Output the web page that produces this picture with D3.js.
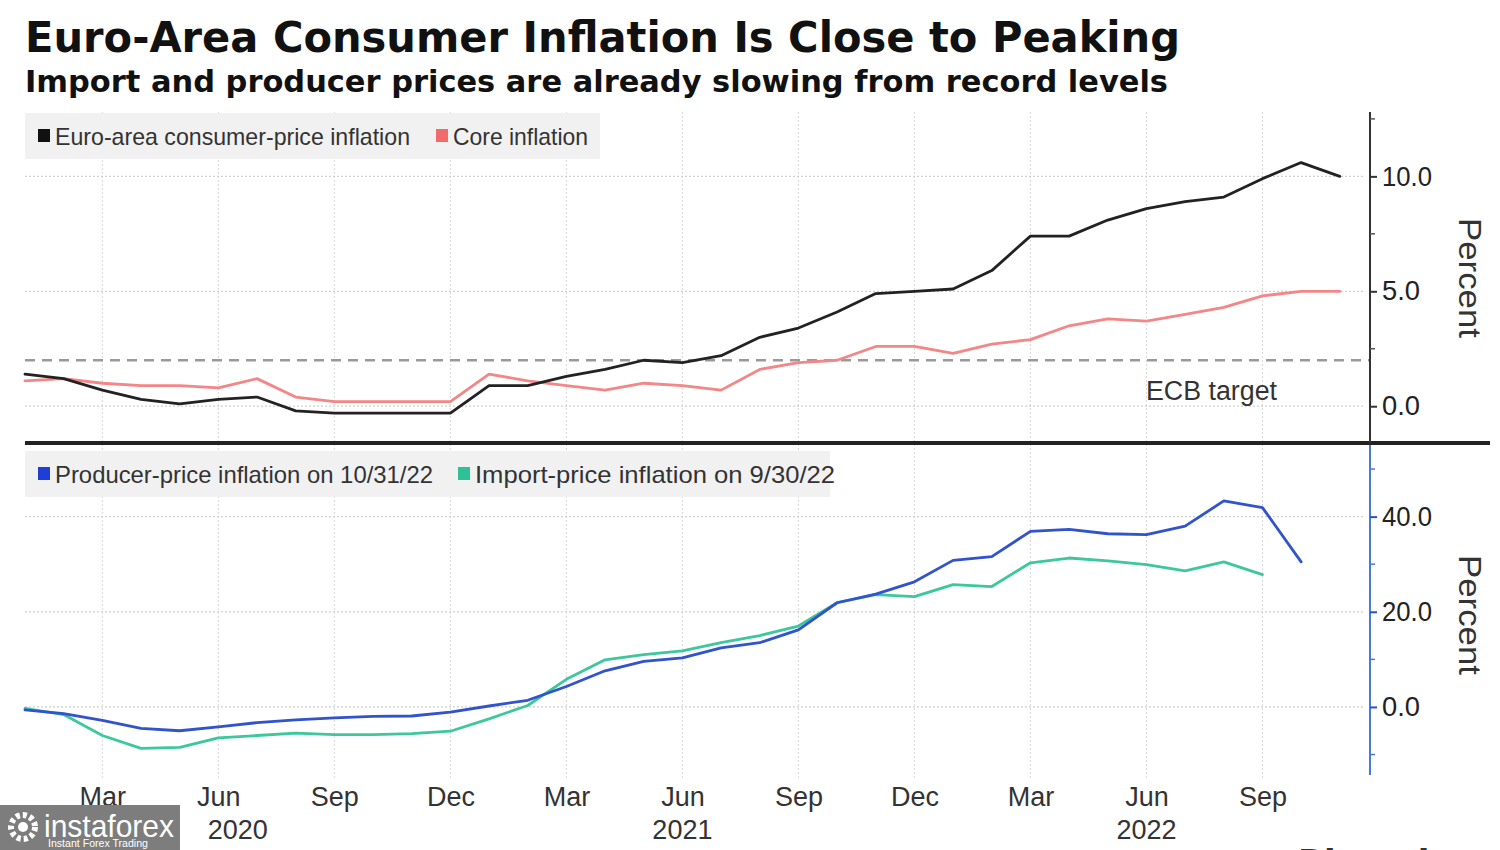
<!DOCTYPE html>
<html><head><meta charset="utf-8">
<script src="https://cdn.jsdelivr.net/npm/d3@7"></script>
<style>
html,body{margin:0;padding:0;background:#fff;}
svg{display:block;}
</style></head>
<body>
<svg id="chart" width="1500" height="850"></svg>
<script>
// ---- data (monthly, Jan 2020 onward) ----
const cpi  = [1.4,1.2,0.7,0.3,0.1,0.3,0.4,-0.2,-0.3,-0.3,-0.3,-0.3,0.9,0.9,1.3,1.6,2.0,1.9,2.2,3.0,3.4,4.1,4.9,5.0,5.1,5.9,7.4,7.4,8.1,8.6,8.9,9.1,9.9,10.6,10.0];
const core = [1.1,1.2,1.0,0.9,0.9,0.8,1.2,0.4,0.2,0.2,0.2,0.2,1.4,1.1,0.9,0.7,1.0,0.9,0.7,1.6,1.9,2.0,2.6,2.6,2.3,2.7,2.9,3.5,3.8,3.7,4.0,4.3,4.8,5.0,5.0];
const ppi  = [-0.6,-1.4,-2.8,-4.5,-5.0,-4.2,-3.3,-2.7,-2.3,-2.0,-1.9,-1.1,0.2,1.4,4.3,7.6,9.6,10.3,12.4,13.5,16.2,21.9,23.7,26.3,30.8,31.6,36.9,37.3,36.4,36.2,38.0,43.3,41.9,30.5];
const imp  = [-0.3,-1.6,-6.0,-8.7,-8.5,-6.5,-6.0,-5.5,-5.8,-5.8,-5.6,-5.1,-2.5,0.3,5.8,9.9,11.0,11.8,13.5,15.0,17.0,21.9,23.6,23.2,25.7,25.3,30.3,31.3,30.7,29.9,28.6,30.5,27.8];
const ecbTarget = 2.0;
const tickMonths = [2,5,8,11,14,17,20,23,26,29,32];
const tickNames  = ["Mar","Jun","Sep","Dec","Mar","Jun","Sep","Dec","Mar","Jun","Sep"];
const yearPos    = [5.5,17,29];
const yearNames  = ["2020","2021","2022"];
const topTicks   = [0,5,10];
const topMinor   = [2.5,7.5,12.5];
const botTicks   = [0,20,40];
const botMinor   = [-10,10,30,50];

const svg = d3.select("#chart");
const FONT = "'Liberation Sans Narrow','Liberation Sans',Arial,sans-serif";

const x = d3.scaleLinear().domain([0,34]).range([25,1339.8]);
const yT = d3.scaleLinear().domain([-1.6,12.8]).range([443,112]);
const yB = d3.scaleLinear().domain([-14.3,54]).range([775,450]);
const axisX = 1370;

// Title
svg.append("text").attr("x",25).attr("y",52)
  .attr("font-family","'DejaVu Sans',sans-serif").attr("font-weight","bold").attr("font-size",42)
  .attr("fill","#111").attr("textLength",1155).attr("lengthAdjust","spacingAndGlyphs")
  .text("Euro-Area Consumer Inflation Is Close to Peaking");
svg.append("text").attr("x",25).attr("y",92)
  .attr("font-family","'DejaVu Sans',sans-serif").attr("font-weight","bold").attr("font-size",31)
  .attr("fill","#111").attr("textLength",1143).attr("lengthAdjust","spacingAndGlyphs")
  .text("Import and producer prices are already slowing from record levels");

// vertical gridlines
svg.append("g").selectAll("line").data(tickMonths).join("line")
  .attr("x1",d=>x(d)).attr("x2",d=>x(d)).attr("y1",112).attr("y2",778)
  .attr("stroke","#d8d8d8").attr("stroke-width",1).attr("stroke-dasharray","2,2");

// horizontal gridlines
svg.append("g").selectAll("line").data(topTicks).join("line")
  .attr("x1",25).attr("x2",axisX-6).attr("y1",d=>yT(d)).attr("y2",d=>yT(d))
  .attr("stroke","#cfcfcf").attr("stroke-width",1.2).attr("stroke-dasharray","2,2");
svg.append("g").selectAll("line").data(botTicks).join("line")
  .attr("x1",25).attr("x2",axisX-6).attr("y1",d=>yB(d)).attr("y2",d=>yB(d))
  .attr("stroke","#cfcfcf").attr("stroke-width",1.2).attr("stroke-dasharray","2,2");

// legends
function legend(y0, w, items){
  const g = svg.append("g");
  g.append("rect").attr("x",25).attr("y",y0).attr("width",w).attr("height",46).attr("fill","#f1f1f1");
  items.forEach(it=>{
    g.append("rect").attr("x",it.x).attr("y",y0+16).attr("width",12).attr("height",13).attr("fill",it.c);
    g.append("text").attr("x",it.x+17).attr("y",y0+32).attr("font-family",FONT).attr("font-size",24)
      .attr("fill","#333").attr("textLength",it.len).attr("lengthAdjust","spacingAndGlyphs").text(it.t);
  });
}
legend(113, 575, [
  {x:38,c:"#111",t:"Euro-area consumer-price inflation",len:355},
  {x:436,c:"#f26b6b",t:"Core inflation",len:135}
]);
legend(451, 805, [
  {x:38,c:"#1d3fd6",t:"Producer-price inflation on 10/31/22",len:378},
  {x:458,c:"#2fc196",t:"Import-price inflation on 9/30/22",len:360}
]);

// ECB target
svg.append("line").attr("x1",25).attr("x2",axisX).attr("y1",yT(ecbTarget)).attr("y2",yT(ecbTarget))
  .attr("stroke","#9a9a9a").attr("stroke-width",2.5).attr("stroke-dasharray","10,7");
svg.append("text").attr("x",1146).attr("y",400).attr("font-family",FONT).attr("font-size",27)
  .attr("fill","#333").attr("textLength",131).attr("lengthAdjust","spacingAndGlyphs").text("ECB target");

// lines
function drawLine(data, y, color, w){
  svg.append("path").datum(data)
    .attr("d", d3.line().x((d,i)=>x(i)).y(d=>y(d)))
    .attr("fill","none").attr("stroke",color).attr("stroke-width",w)
    .attr("stroke-linejoin","round").attr("stroke-linecap","round");
}
drawLine(core, yT, "#f38686", 2.8);
drawLine(cpi, yT, "#222", 2.8);
drawLine(imp, yB, "#3cc79c", 2.8);
drawLine(ppi, yB, "#3153cc", 2.8);

// separator
svg.append("rect").attr("x",25).attr("y",441).attr("width",1465).attr("height",4).attr("fill","#222");

// right axes
const aT = d3.axisRight(yT).tickValues(topTicks).tickFormat(d3.format(".1f")).tickSize(7).tickPadding(5);
const gT = svg.append("g").attr("transform",`translate(${axisX},0)`).call(aT);
gT.select(".domain").attr("d",`M0,112V443`).attr("stroke","#333").attr("stroke-width",2);
gT.selectAll(".tick line").attr("stroke","#333").attr("stroke-width",2);
gT.selectAll(".tick text").attr("font-family",FONT).attr("font-size",27).attr("fill","#222")
  .attr("textLength",function(){return this.textContent.length===4?50:38;}).attr("lengthAdjust","spacingAndGlyphs");
svg.append("g").selectAll("line").data(topMinor).join("line")
  .attr("x1",axisX).attr("x2",axisX+5).attr("y1",d=>yT(d)).attr("y2",d=>yT(d))
  .attr("stroke","#555").attr("stroke-width",1.5);

const aB = d3.axisRight(yB).tickValues(botTicks).tickFormat(d3.format(".1f")).tickSize(7).tickPadding(5);
const gB = svg.append("g").attr("transform",`translate(${axisX},0)`).call(aB);
gB.select(".domain").attr("d",`M0,445V775`).attr("stroke","#4a78dd").attr("stroke-width",2);
gB.selectAll(".tick line").attr("stroke","#2b4fd0").attr("stroke-width",2);
gB.selectAll(".tick text").attr("font-family",FONT).attr("font-size",27).attr("fill","#222")
  .attr("textLength",function(){return this.textContent.length===4?50:38;}).attr("lengthAdjust","spacingAndGlyphs");
svg.append("g").selectAll("line").data(botMinor).join("line")
  .attr("x1",axisX).attr("x2",axisX+5).attr("y1",d=>yB(d)).attr("y2",d=>yB(d))
  .attr("stroke","#4a78dd").attr("stroke-width",1.5);

// Percent labels
[[278],[615]].forEach(([cy])=>{
  svg.append("text").attr("transform",`translate(1459,${cy}) rotate(90)`).attr("text-anchor","middle")
    .attr("font-family",FONT).attr("font-size",31).attr("fill","#333")
    .attr("textLength",120).attr("lengthAdjust","spacingAndGlyphs").text("Percent");
});

// x axis labels
const aX = d3.axisBottom(x).tickValues(tickMonths).tickFormat((d,i)=>tickNames[i]).tickSize(0).tickPadding(0);
const gX = svg.append("g").attr("transform","translate(0,783)").call(aX);
gX.select(".domain").remove();
gX.selectAll(".tick text").attr("font-family",FONT).attr("font-size",27).attr("fill","#333").attr("dy","0.85em");
svg.append("g").selectAll("text").data(yearNames).join("text")
  .attr("x",(d,i)=>x(yearPos[i])).attr("y",839).attr("text-anchor","middle")
  .attr("font-family",FONT).attr("font-size",27).attr("fill","#333").text(d=>d);

// Bloomberg (cut at the bottom edge, as in the source)
svg.append("text").attr("x",1298).attr("y",874).attr("font-family","'DejaVu Sans',sans-serif")
  .attr("font-weight","bold").attr("font-size",34).attr("fill","#333").text("Bloomberg");

// watermark
const wm = svg.append("g");
wm.append("rect").attr("x",0).attr("y",805).attr("width",180).attr("height",45).attr("fill","#7d7d7d");
wm.append("circle").attr("cx",23).attr("cy",827).attr("r",12).attr("fill","none").attr("stroke","#fff")
  .attr("stroke-width",6).attr("stroke-dasharray","4,3");
wm.append("circle").attr("cx",23).attr("cy",827).attr("r",5).attr("fill","#fff");
wm.append("text").attr("x",44).attr("y",837).attr("font-family","'Liberation Sans',Arial,sans-serif")
  .attr("font-size",32).attr("fill","#fff").attr("textLength",130).attr("lengthAdjust","spacingAndGlyphs").text("instaforex");
wm.append("text").attr("x",48).attr("y",847).attr("font-family","'Liberation Sans',Arial,sans-serif")
  .attr("font-size",11).attr("fill","#fff").attr("textLength",100).attr("lengthAdjust","spacingAndGlyphs").text("Instant Forex Trading");
</script>
</body></html>
